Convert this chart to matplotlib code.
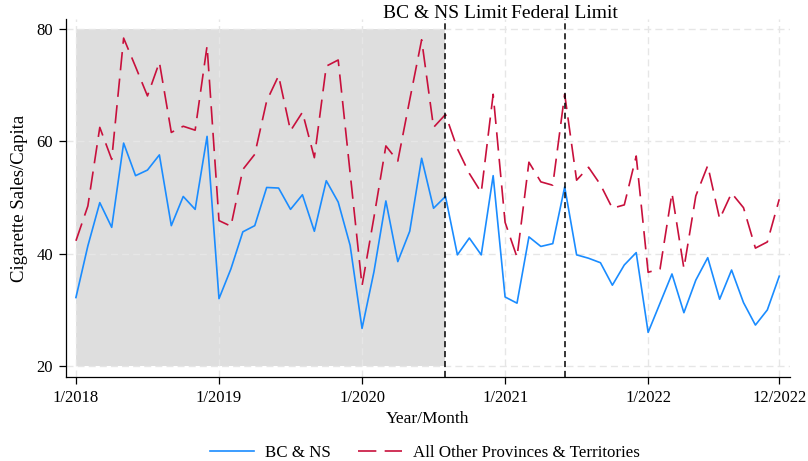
import matplotlib
matplotlib.use("Agg")
import matplotlib.pyplot as plt
from matplotlib import rcParams

rcParams.update({
    "font.family": ["Liberation Serif", "DejaVu Serif"],
    "font.size": 12,
})

# 月份标签 (1/2018 - 12/2022)
tick_pos = [0, 12, 24, 36, 48, 59]
tick_labels = ["1/2018", "1/2019", "1/2020", "1/2021", "1/2022", "12/2022"]

# BC & NS 数据
bc_ns = [32.2, 41.4, 49.1, 44.7, 59.7, 53.9, 54.9, 57.6, 45.0, 50.2, 47.9, 60.9,
         32.0, 37.3, 43.9, 45.0, 51.8, 51.7, 47.9, 50.5, 44.0, 53.0, 49.2, 41.5,
         26.7, 36.8, 49.4, 38.6, 44.0, 57.0, 48.1, 50.2, 39.8, 42.8, 39.8, 53.9,
         32.3, 31.2, 43.0, 41.3, 41.8, 51.9, 39.8, 39.2, 38.4, 34.4, 38.0, 40.2,
         26.0, 31.2, 36.4, 29.5, 35.3, 39.3, 31.9, 37.1, 31.3, 27.3, 30.0, 36.0]

# 其他省份数据
others = [42.3, 48.5, 62.5, 56.8, 78.4, 73.3, 68.1, 74.1, 61.6, 62.7, 62.0, 77.0,
          45.9, 44.9, 55.0, 57.7, 67.2, 71.7, 61.9, 65.2, 57.1, 73.4, 74.5, 54.4,
          34.3, 46.5, 59.2, 56.5, 67.4, 78.1, 62.5, 64.8, 58.7, 54.3, 50.9, 68.4,
          45.6, 39.4, 56.3, 52.8, 52.2, 68.4, 53.1, 55.4, 52.3, 48.1, 48.7, 57.4,
          36.7, 37.3, 50.8, 37.4, 50.3, 55.7, 46.2, 50.8, 48.2, 41.0, 42.1, 49.7]

# 政策时间点 (8/2020, 6/2021)
bcns_limit = 31
federal_limit = 41

months = list(range(len(bc_ns)))

fig = plt.figure(figsize=(8.08, 4.61), dpi=100)
ax = fig.add_axes([0.0813, 0.1822, 0.8964, 0.7766])

# 灰色阴影区域
ax.fill_between([0, bcns_limit], 20, 80, color="#dedede", lw=0, zorder=0.1)

ax.plot(months, bc_ns, color="#1a8cff", lw=1.2, label="BC & NS", zorder=3)
ax.plot(months, others, color="#c8103c", lw=1.2, ls=(0, (11, 5)),
        label="All Other Provinces & Territories", zorder=3)

for xv in [bcns_limit, federal_limit]:
    ax.axvline(xv, color="black", lw=1.1, ls=(0, (4, 2.5)), zorder=4)

ax.text(bcns_limit, 82.75, "BC & NS Limit", ha="center", va="center", fontsize=14)
ax.text(federal_limit, 82.75, "Federal Limit", ha="center", va="center", fontsize=14)

ax.set_xlim(-0.86, 59.9)
ax.set_ylim(18.05, 81.8)
ax.set_xticks(tick_pos)
ax.set_xticklabels(tick_labels)
ax.set_yticks([20, 40, 60, 80])
ax.tick_params(direction="out", length=5, width=0.9, pad=4, labelsize=12)

ax.set_axisbelow(True)
ax.grid(color="#e6e6e6", ls=(0, (5, 3)), lw=1.0)

for s in ["top", "right"]:
    ax.spines[s].set_visible(False)
for s in ["left", "bottom"]:
    ax.spines[s].set_linewidth(0.9)

ax.set_xlabel("Year/Month", fontsize=12.5, labelpad=4)
ax.set_ylabel("Cigarette Sales/Capita", fontsize=13.5, labelpad=6)

fig.legend(loc="center", bbox_to_anchor=(0.5254, 0.017), ncol=2, frameon=False,
           fontsize=12.2, handlelength=2.6, handletextpad=0.65, columnspacing=1.6,
           borderpad=0.2)

fig.savefig("out.png", dpi=100)
plt.close()
